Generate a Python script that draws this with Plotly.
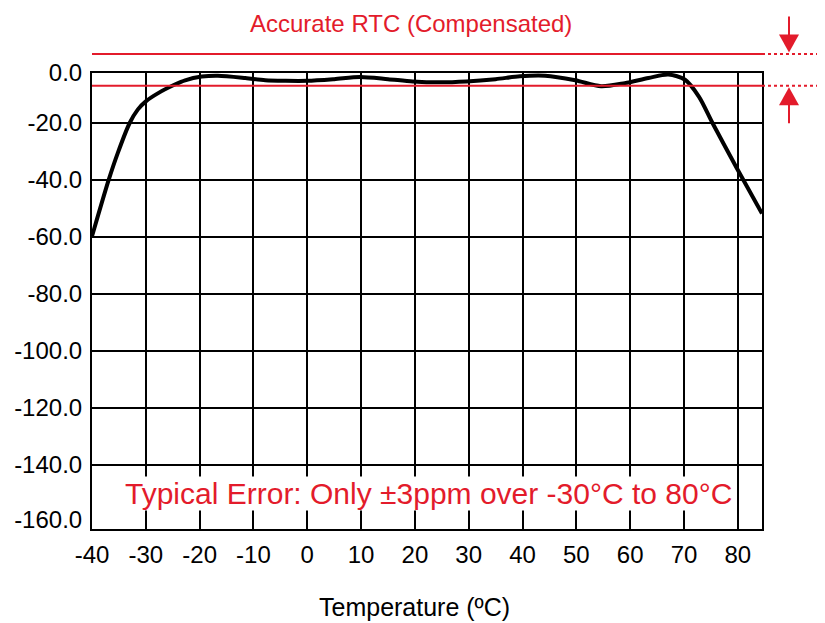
import plotly.graph_objects as go

# Data
temp_c = [-40, -36.9, -35.2, -33, -31.5, -30, -27.7, -24.6, -22.7, -19.6, -16.6, -11.5, -7.8, -4, 0,
          5, 9.8, 15, 19.6, 24.6, 29.6, 35, 39.5, 44.2, 49.8, 54.6, 59, 63.4, 67.1, 70.2, 72.8,
          75.3, 79.8, 84.5]
error_ppm = [-59.8, -40, -30.5, -20, -15.3, -12.4, -9.5, -6.5, -5.0, -3.7, -3.4, -4.2, -5.0, -5.2, -5.2,
             -4.6, -3.85, -4.6, -5.4, -5.7, -5.4, -4.6, -3.6, -3.4, -5.0, -7.1, -6.0, -4.2, -3.0, -4.8, -10.8,
             -20, -35.8, -51.8]

x_ticks = [-40, -30, -20, -10, 0, 10, 20, 30, 40, 50, 60, 70, 80]
x_labels = [str(v) for v in x_ticks]
y_label_vals = [-2.43, -20, -40, -60, -80, -100, -120, -140, -159.4]
y_labels = ["0.0", "-20.0", "-40.0", "-60.0", "-80.0", "-100.0", "-120.0", "-140.0", "-160.0"]
y_grid = [-20, -40, -60, -80, -100, -120, -140]
band_upper = 4.2
band_lower = -6.9

Y_RANGE = [-162.6, -2.44]
X_RANGE = [-40, 84.5]

RED = "#e31b2b"
FONT = "Liberation Sans, Arial, sans-serif"

# the page body adds an 8px offset; size the figure to fill the window
OFF = 8
W, H = 825 - OFF, 623 - OFF
ML, MT = 92 - OFF, 73 - OFF
MR, MB = 63, 94
PW, PH = W - ML - MR, H - MT - MB


def yfrac(v):
    return (v - Y_RANGE[0]) / (Y_RANGE[1] - Y_RANGE[0])


def xpx(px):
    # window pixel -> paper x
    return (px - OFF - ML) / PW


fig = go.Figure()
fig.add_trace(go.Scatter(x=temp_c, y=error_ppm, mode="lines",
                         line=dict(color="black", width=4, shape="spline", smoothing=0.8),
                         hoverinfo="skip", showlegend=False))

x_ext = (W - ML) / PW + 0.02
for yv in (band_upper, band_lower):
    yf = yfrac(yv)
    fig.add_shape(type="line", xref="paper", yref="paper", x0=0, x1=1, y0=yf, y1=yf,
                  line=dict(color=RED, width=2), layer="above")
    fig.add_shape(type="line", xref="paper", yref="paper", x0=1, x1=x_ext, y0=yf, y1=yf,
                  line=dict(color=RED, width=2, dash="dot"), layer="above")

# arrows (decorations) pointing at the band lines
head_w, head_l, stem_l = 20, 18, 36
axf = xpx(789)
hw = head_w / 2 / PW
hl = head_l / PH
sl = stem_l / PH
tip_top = yfrac(band_upper) + 1.5 / PH
tip_bot = yfrac(band_lower) - 1.5 / PH
fig.add_shape(type="line", xref="paper", yref="paper", x0=axf, x1=axf, y0=tip_top + hl - 0.002, y1=tip_top + sl,
              line=dict(color=RED, width=2))
fig.add_shape(type="path", xref="paper", yref="paper",
              path=f"M {axf - hw} {tip_top + hl} L {axf + hw} {tip_top + hl} L {axf} {tip_top} Z",
              fillcolor=RED, line=dict(color=RED, width=0))
fig.add_shape(type="line", xref="paper", yref="paper", x0=axf, x1=axf, y0=tip_bot - hl + 0.002, y1=tip_bot - sl,
              line=dict(color=RED, width=2))
fig.add_shape(type="path", xref="paper", yref="paper",
              path=f"M {axf - hw} {tip_bot - hl} L {axf + hw} {tip_bot - hl} L {axf} {tip_bot} Z",
              fillcolor=RED, line=dict(color=RED, width=0))

fig.add_annotation(xref="paper", yref="paper", x=xpx(411), y=1.0, yshift=MT,
                   text="Accurate RTC (Compensated)",
                   showarrow=False, font=dict(family=FONT, size=24, color=RED), xanchor="center", yanchor="top")
fig.add_annotation(xref="paper", yref="paper", x=xpx(428), y=0, yshift=36,
                   text="Typical Error: Only ±3ppm over -30°C to 80°C",
                   showarrow=False, font=dict(family=FONT, size=30, color=RED), xanchor="center", yanchor="middle",
                   bgcolor="white", borderpad=0)
fig.add_annotation(xref="paper", yref="paper", x=xpx(414), y=0, yshift=-78,
                   text="Temperature (ºC)", showarrow=False,
                   font=dict(family=FONT, size=25, color="black"), xanchor="center", yanchor="middle")

fig.update_layout(
    width=W, height=H,
    margin=dict(l=ML, r=MR, t=MT, b=MB),
    paper_bgcolor="white", plot_bgcolor="white",
    font=dict(family=FONT, color="black"),
    xaxis=dict(range=X_RANGE, tickmode="array", tickvals=x_ticks, ticktext=x_labels,
               showgrid=True, gridcolor="black", gridwidth=2, zeroline=False,
               showline=True, linecolor="black", linewidth=2, mirror=True, automargin=False,
               ticks="", tickfont=dict(size=24), ticklabelstandoff=3),
    yaxis=dict(range=Y_RANGE, tickmode="array", tickvals=y_label_vals, ticktext=y_labels,
               showgrid=False, zeroline=False, automargin=False,
               showline=True, linecolor="black", linewidth=2, mirror=True,
               ticks="", tickfont=dict(size=24), ticklabelstandoff=3,
               minor=dict(tickmode="array", tickvals=y_grid, showgrid=True, gridcolor="black", gridwidth=2, ticks="")),
)

fig.write_html("out.html")
